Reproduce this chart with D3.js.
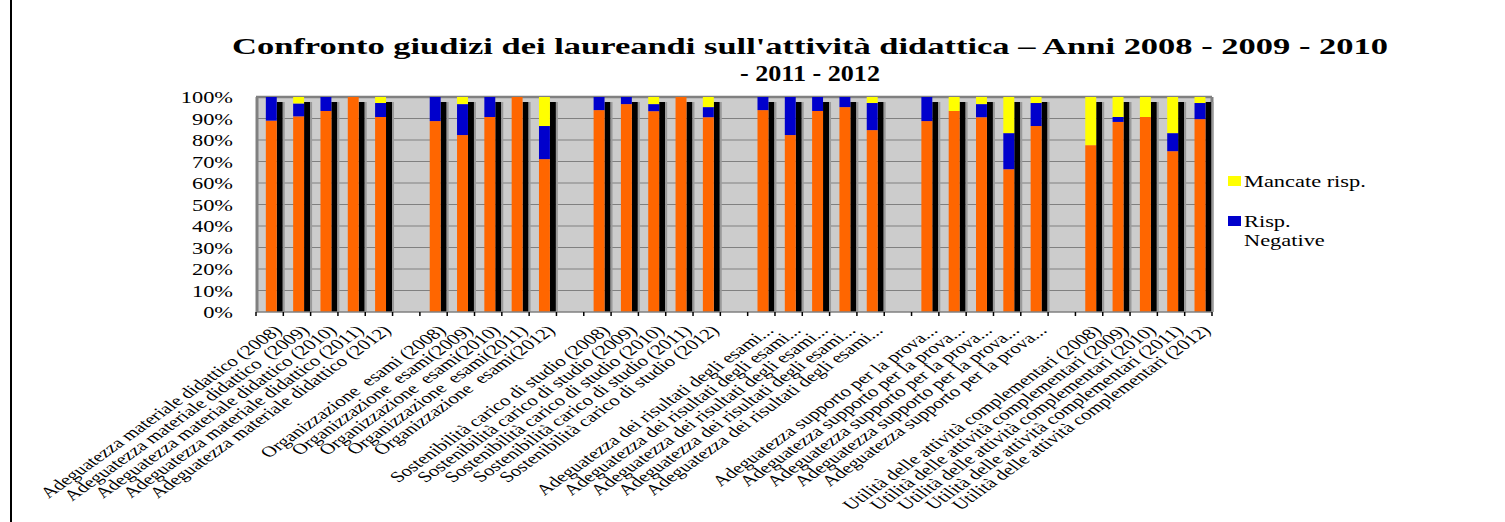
<!DOCTYPE html>
<html>
<head>
<meta charset="utf-8">
<script src="https://cdn.jsdelivr.net/npm/d3@7"></script>
<style>
  body { margin: 0; background: #fff; }
  text { font-family: "Liberation Serif", "Times New Roman", serif; white-space: pre; }
</style>
</head>
<body>
<svg id="chart" width="1505" height="522"></svg>
<script>
// chart data
var categories = [
  "Adeguatezza materiale didattico (2008)", "Adeguatezza materiale didattico  (2009)",
  "Adeguatezza materiale didattico (2010)", "Adeguatezza materiale didattico (2011)",
  "Adeguatezza materiale didattico (2012)",
  "Organizzazione  esami (2008)", "Organizzazione  esami(2009)", "Organizzazione  esami(2010)",
  "Organizzazione  esami(2011)", "Organizzazione  esami(2012)",
  "Sostenibilità carico di studio (2008)", "Sostenibilità carico di studio (2009)",
  "Sostenibilità carico di studio (2010)", "Sostenibilità carico di studio (2011)",
  "Sostenibilità carico di studio (2012)",
  "Adeguatezza dei risultati degli esami...", "Adeguatezza dei risultati degli esami...",
  "Adeguatezza dei risultati degli esami...", "Adeguatezza dei risultati degli esami...",
  "Adeguatezza dei risultati degli esami...",
  "Adeguatezza supporto per la prova...", "Adeguatezza supporto per la prova...",
  "Adeguatezza supporto per la prova...", "Adeguatezza supporto per la prova...",
  "Adeguatezza supporto per la prova...",
  "Utilità delle attività complementari (2008)", "Utilità delle attività complementari (2009)",
  "Utilità delle attività complementari (2010)", "Utilità delle attività complementari (2011)",
  "Utilità delle attività complementari (2012)"
];
var rispPositive = [
  89, 91, 93.5, 100, 90.7,
  88.8, 82.3, 90.7, 100, 71.1,
  93.9, 96.7, 93.4, 100, 90.6,
  93.9, 82.3, 93.5, 95.3, 84.6,
  88.8, 93.5, 90.6, 66.4, 86.5,
  77.6, 88.4, 90.7, 74.8, 89.7
];
var rispNegative = [
  11, 6, 6.5, 0, 6.5,
  11.2, 14.4, 9.3, 0, 15.4,
  6.1, 3.3, 3.3, 0, 4.7,
  6.1, 17.7, 6.5, 4.7, 12.6,
  11.2, 0, 6.1, 16.8, 10.7,
  0, 2.3, 0, 8.4, 7.5
];
var mancateRisp = [
  0, 3, 0, 0, 2.8,
  0, 3.3, 0, 0, 13.5,
  0, 0, 3.3, 0, 4.7,
  0, 0, 0, 0, 2.8,
  0, 6.5, 3.3, 16.8, 2.8,
  22.4, 9.3, 9.3, 16.8, 2.8
];
var yTicks = [0, 0.1, 0.2, 0.3, 0.4, 0.5, 0.6, 0.7, 0.8, 0.9, 1];
var titleLines = [
  "Confronto giudizi dei laureandi sull'attività didattica – Anni 2008 - 2009 - 2010",
  "- 2011 - 2012"
];

var colors = { pos: "#ff6600", neg: "#0000cc", miss: "#ffff00" };
var stretch = 1.4; // the picture is horizontally stretched

var svg = d3.select("#chart");

// left rule
svg.append("line")
  .attr("x1", 11).attr("x2", 11).attr("y1", 0).attr("y2", 522)
  .attr("stroke", "#000").attr("stroke-width", 2);

// build rows; a blank slot goes between each group of five
var rows = categories.map(function (c, i) {
  return { key: "c" + i, label: c, pos: rispPositive[i], neg: rispNegative[i], miss: mancateRisp[i] };
});
var slots = [];
rows.forEach(function (r, i) {
  if (i > 0 && i % 5 === 0) slots.push("gap" + i);
  slots.push(r.key);
});

var plotLeft = 256, plotRight = 1212, plotTop = 97, plotBottom = 312;

var x = d3.scaleBand().domain(slots).range([plotLeft, plotRight]).paddingInner(0).paddingOuter(0);
var y = d3.scaleLinear().domain([0, 100]).range([plotBottom, plotTop]);

// plot background
svg.append("rect")
  .attr("x", plotLeft).attr("y", plotTop)
  .attr("width", plotRight - plotLeft).attr("height", plotBottom - plotTop)
  .attr("fill", "#cccccc");

// gridlines
svg.append("g").selectAll("line")
  .data(yTicks.slice(1, -1))
  .enter().append("line")
  .attr("x1", plotLeft).attr("x2", plotRight)
  .attr("y1", function (d) { return y(d * 100); })
  .attr("y2", function (d) { return y(d * 100); })
  .attr("stroke", "#808080").attr("stroke-width", 1.2);

// walls
svg.append("line").attr("x1", plotLeft).attr("x2", plotRight).attr("y1", plotTop).attr("y2", plotTop)
  .attr("stroke", "#808080").attr("stroke-width", 2.5);
svg.append("line").attr("x1", plotLeft + 1).attr("x2", plotLeft + 1).attr("y1", plotTop).attr("y2", plotBottom)
  .attr("stroke", "#808080").attr("stroke-width", 3);
svg.append("line").attr("x1", plotRight).attr("x2", plotRight).attr("y1", plotTop).attr("y2", plotBottom)
  .attr("stroke", "#808080").attr("stroke-width", 3);

// stacked bars
var stack = d3.stack().keys(["pos", "neg", "miss"]);
var series = stack(rows);

var bw = x.bandwidth();
var barX = function (d) { return x(d.data.key) + bw * 0.36; };
var barW = bw * 0.4;

// dark side face of each bar
svg.append("g").selectAll("rect")
  .data(series[0])
  .enter().append("rect")
  .attr("x", function (d) { return barX(d) + barW; })
  .attr("y", y(100) + 5)
  .attr("width", 6)
  .attr("height", plotBottom - y(100) - 5)
  .attr("fill", "#000");
svg.append("g").selectAll("rect")
  .data(series[0])
  .enter().append("rect")
  .attr("x", function (d) { return barX(d) + barW + 6; })
  .attr("y", y(100) + 5)
  .attr("width", 2)
  .attr("height", plotBottom - y(100) - 5)
  .attr("fill", "#9a9a9a");

svg.append("g").selectAll("g")
  .data(series)
  .enter().append("g")
  .attr("fill", function (s) { return colors[s.key]; })
  .selectAll("rect")
  .data(function (s) { return s; })
  .enter().append("rect")
  .attr("x", barX)
  .attr("y", function (d) { return y(d[1]); })
  .attr("width", barW)
  .attr("height", function (d) { return y(d[0]) - y(d[1]); });

// x axis line and ticks
svg.append("line").attr("x1", plotLeft).attr("x2", plotRight).attr("y1", plotBottom).attr("y2", plotBottom)
  .attr("stroke", "#808080").attr("stroke-width", 1.5);
svg.append("g").selectAll("line")
  .data(slots.concat(["end"]))
  .enter().append("line")
  .attr("x1", function (d) { return d === "end" ? plotRight : x(d); })
  .attr("x2", function (d) { return d === "end" ? plotRight : x(d); })
  .attr("y1", plotBottom).attr("y2", plotBottom + 4)
  .attr("stroke", "#000").attr("stroke-width", 1.5);

// category labels
svg.append("g").selectAll("text")
  .data(rows)
  .enter().append("text")
  .attr("transform", function (d) {
    return "translate(" + (x(d.key) + bw / 2 + 3) + "," + (plotBottom + 12) + ") scale(" + stretch + ",1) rotate(-45)";
  })
  .attr("text-anchor", "end")
  .attr("dy", "0.7em")
  .attr("font-size", 15)
  .attr("fill", "#000")
  .text(function (d) { return d.label; });

// y axis
var yAxis = svg.append("g")
  .attr("transform", "translate(" + plotLeft + ",0)")
  .call(d3.axisLeft(y.copy().domain([0, 1])).tickValues(yTicks).tickFormat(d3.format(".0%")).tickSize(0));
yAxis.select(".domain").remove();
yAxis.selectAll("text")
  .attr("x", null).attr("dy", "0.35em")
  .attr("transform", "translate(-23,0) scale(" + stretch + ",1)")
  .attr("font-family", "Liberation Serif")
  .attr("font-size", 16)
  .attr("fill", "#000");

// title
svg.append("g").selectAll("text")
  .data(titleLines)
  .enter().append("text")
  .attr("x", 810)
  .attr("y", function (d, i) { return 54 + i * 27; })
  .attr("text-anchor", "middle")
  .attr("font-size", 23)
  .attr("font-weight", "bold")
  .attr("textLength", function (d, i) { return i === 0 ? 1156 : 140; })
  .attr("lengthAdjust", "spacingAndGlyphs")
  .text(function (d) { return d; });

// legend
var legend = [
  { key: "miss", lines: ["Mancate risp."], y: 176 },
  { key: "neg", lines: ["Risp.", "Negative"], y: 216 }
];
var lg = svg.append("g").selectAll("g")
  .data(legend)
  .enter().append("g");
lg.append("rect")
  .attr("x", 1228).attr("y", function (d) { return d.y; })
  .attr("width", 13).attr("height", 10)
  .attr("fill", function (d) { return colors[d.key]; });
lg.each(function (d) {
  d3.select(this).selectAll("text")
    .data(d.lines)
    .enter().append("text")
    .attr("transform", function (t, i) { return "translate(1244," + (d.y + 11 + i * 19) + ") scale(" + stretch + ",1)"; })
    .attr("font-size", 16)
    .text(function (t) { return t; });
});
</script>
</body>
</html>
